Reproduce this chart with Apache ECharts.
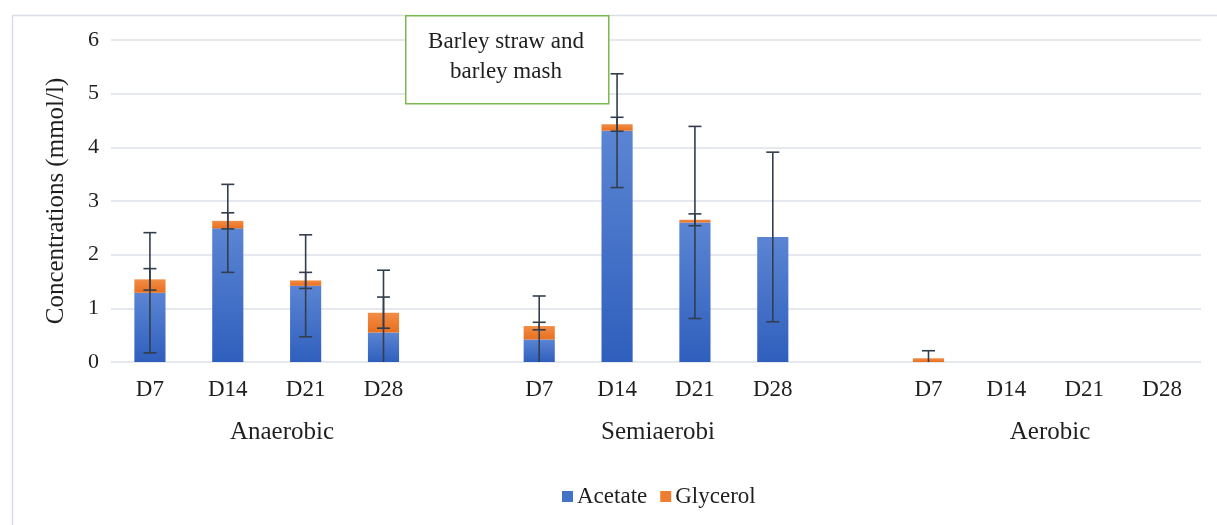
<!DOCTYPE html>
<html>
<head>
<meta charset="utf-8">
<script src="https://cdn.jsdelivr.net/npm/echarts@6/dist/echarts.min.js"></script>
<style>
html,body{margin:0;padding:0;background:#fff;}
#main{width:1217px;height:525px;}
</style>
</head>
<body>
<div id="main"></div>
<script>
// Data
const categories = ['D7','D14','D21','D28','', 'D7','D14','D21','D28','', 'D7','D14','D21','D28'];
const groupLabels = ['Anaerobic', 'Semiaerobi', 'Aerobic'];
const acetate     = [1.29, 2.49, 1.42, 0.55, null, 0.42, 4.31, 2.60, 2.33, null, 0, 0, 0, 0];
const glycerol    = [0.25, 0.14, 0.10, 0.37, null, 0.25, 0.12, 0.05, 0,    null, 0.07, 0, 0, 0];
const acetateErr  = [1.12, 0.82, 0.95, 1.16, null, 0.81, 1.06, 1.79, 1.58, null, 0, 0, 0, 0];
const glycerolErr = [0.20, 0.15, 0.15, 0.29, null, 0.07, 0.13, 0.11, 0,    null, 0.14, 0, 0, 0];
const yTicks = [0, 1, 2, 3, 4, 5, 6];
const boxText = 'Barley straw and\nbarley mash';

const FONT = '"Liberation Serif", "DejaVu Serif", serif';
const TXT = '#1f1f1f';

const chart = echarts.init(document.getElementById('main'), null, {renderer: 'canvas'});

const acetateErrData = acetate.map((v, i) => v == null ? [i, null, null] : [i, v, acetateErr[i]]);
const glycerolErrData = acetate.map((v, i) => v == null ? [i, null, null] : [i, v + glycerol[i], glycerolErr[i]]);

function errRender(params, api) {
  const c = api.value(1), e = api.value(2);
  if (c == null || isNaN(c) || !e) return;
  const idx = api.value(0);
  const hiV = c + e, loV = c - e;
  const hi = api.coord([idx, hiV]);
  const lo = api.coord([idx, Math.max(0, loV)]);
  const half = 6.5;
  const st = {stroke: '#323d4d', lineWidth: 1.6};
  const children = [
    {type: 'line', shape: {x1: hi[0], y1: hi[1], x2: lo[0], y2: lo[1]}, style: st},
    {type: 'line', shape: {x1: hi[0] - half, y1: hi[1], x2: hi[0] + half, y2: hi[1]}, style: st}
  ];
  if (loV >= 0) children.push({type: 'line', shape: {x1: lo[0] - half, y1: lo[1], x2: lo[0] + half, y2: lo[1]}, style: st});
  return {type: 'group', children: children};
}

const blueGrad = new echarts.graphic.LinearGradient(0, 0, 0, 1, [
  {offset: 0, color: '#5b85d3'}, {offset: 1, color: '#2f5fbd'}]);
const orangeGrad = new echarts.graphic.LinearGradient(0, 0, 0, 1, [
  {offset: 0, color: '#f28c45'}, {offset: 1, color: '#e8701f'}]);

const option = {
  backgroundColor: '#ffffff',
  animation: false,
  textStyle: {fontFamily: FONT},
  grid: {left: 111, right: 16, top: 40, bottom: 163, containLabel: false},
  legend: {
    bottom: 12, left: 557,
    itemWidth: 11, itemHeight: 11, itemGap: 13,
    icon: 'rect',
    textStyle: {fontFamily: FONT, fontSize: 23, color: TXT, padding: [0, 0, 0, -1]},
    data: [{name: 'Acetate', itemStyle: {color: '#4472c4'}}, {name: 'Glycerol', itemStyle: {color: '#ed7d31'}}]
  },
  xAxis: {
    type: 'category',
    data: categories,
    axisLine: {show: false},
    axisTick: {show: false},
    axisLabel: {fontFamily: FONT, fontSize: 23, color: TXT, margin: 16, interval: 0}
  },
  yAxis: {
    type: 'value',
    min: yTicks[0], max: yTicks[yTicks.length - 1], interval: 1,
    name: 'Concentrations (mmol/l)',
    nameLocation: 'middle', nameGap: 42, nameRotate: 90,
    nameTextStyle: {fontFamily: FONT, fontSize: 25, color: TXT},
    axisLine: {show: false},
    axisTick: {show: false},
    axisLabel: {fontFamily: FONT, fontSize: 22, color: TXT, margin: 12},
    splitLine: {lineStyle: {color: '#dde0e8', width: 1.5}}
  },
  series: [
    {name: 'Acetate', type: 'bar', stack: 's', data: acetate, barCategoryGap: '60%',
     itemStyle: {color: blueGrad}},
    {name: 'Glycerol', type: 'bar', stack: 's', data: glycerol,
     itemStyle: {color: orangeGrad}},
    {name: 'errA', type: 'custom', renderItem: errRender, data: acetateErrData,
     encode: {x: 0, y: 1}, z: 10, clip: true, tooltip: {show: false}},
    {name: 'errG', type: 'custom', renderItem: errRender, data: glycerolErrData,
     encode: {x: 0, y: 1}, z: 10, clip: true, tooltip: {show: false}}
  ],
  graphic: [
    {type: 'rect', left: 10, top: 13, shape: {width: 1400, height: 700},
     style: {fill: 'none', stroke: '#dadde6', lineWidth: 1.5}, silent: true, z: -1},
    {type: 'rect', left: 405, top: 15, shape: {width: 203, height: 88},
     style: {fill: '#ffffff', stroke: '#7cb850', lineWidth: 1.5}, z: 20},
    {type: 'text', x: 506, y: 57, z: 21,
     style: {text: boxText, font: '23px ' + FONT, fill: TXT, align: 'center', verticalAlign: 'middle', lineHeight: 30}},
    {type: 'text', x: 282, y: 432, z: 21,
     style: {text: groupLabels[0], font: '25px ' + FONT, fill: TXT, align: 'center', verticalAlign: 'middle'}},
    {type: 'text', x: 658, y: 432, z: 21,
     style: {text: groupLabels[1], font: '25px ' + FONT, fill: TXT, align: 'center', verticalAlign: 'middle'}},
    {type: 'text', x: 1050, y: 432, z: 21,
     style: {text: groupLabels[2], font: '25px ' + FONT, fill: TXT, align: 'center', verticalAlign: 'middle'}}
  ]
};
chart.setOption(option);
</script>
</body>
</html>
